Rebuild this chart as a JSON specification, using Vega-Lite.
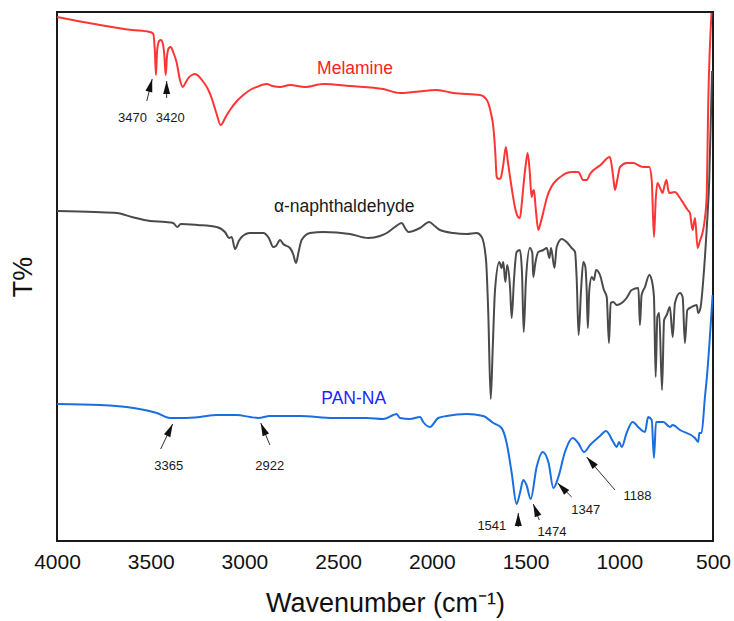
{
  "$schema": "https://vega.github.io/schema/vega-lite/v6.json",
  "width": 656,
  "height": 529,
  "autosize": "none",
  "padding": {"left": 57, "top": 12, "right": 21, "bottom": 80},
  "background": "white",
  "config": {
    "view": {"stroke": "#1a1a1a", "strokeWidth": 2},
    "font": "Liberation Sans"
  },
  "datasets": {
    "spectra": [
      {"series": "Melamine", "w": 4000, "t": 524}, {"series": "Melamine", "w": 3800, "t": 517}, {"series": "Melamine", "w": 3600, "t": 511},
      {"series": "Melamine", "w": 3504, "t": 509}, {"series": "Melamine", "w": 3486, "t": 507}, {"series": "Melamine", "w": 3478, "t": 490},
      {"series": "Melamine", "w": 3472, "t": 466}, {"series": "Melamine", "w": 3466, "t": 490}, {"series": "Melamine", "w": 3455, "t": 500},
      {"series": "Melamine", "w": 3445, "t": 501}, {"series": "Melamine", "w": 3435, "t": 497}, {"series": "Melamine", "w": 3427, "t": 485},
      {"series": "Melamine", "w": 3420, "t": 466}, {"series": "Melamine", "w": 3413, "t": 485}, {"series": "Melamine", "w": 3403, "t": 493},
      {"series": "Melamine", "w": 3393, "t": 494}, {"series": "Melamine", "w": 3380, "t": 489}, {"series": "Melamine", "w": 3361, "t": 478},
      {"series": "Melamine", "w": 3345, "t": 462}, {"series": "Melamine", "w": 3329, "t": 454}, {"series": "Melamine", "w": 3315, "t": 458},
      {"series": "Melamine", "w": 3299, "t": 463}, {"series": "Melamine", "w": 3280, "t": 466}, {"series": "Melamine", "w": 3264, "t": 467},
      {"series": "Melamine", "w": 3245, "t": 465}, {"series": "Melamine", "w": 3219, "t": 459}, {"series": "Melamine", "w": 3195, "t": 452},
      {"series": "Melamine", "w": 3175, "t": 443}, {"series": "Melamine", "w": 3150, "t": 428}, {"series": "Melamine", "w": 3127, "t": 416},
      {"series": "Melamine", "w": 3100, "t": 424}, {"series": "Melamine", "w": 3077, "t": 431}, {"series": "Melamine", "w": 3040, "t": 440},
      {"series": "Melamine", "w": 3006, "t": 446}, {"series": "Melamine", "w": 2970, "t": 451}, {"series": "Melamine", "w": 2935, "t": 454},
      {"series": "Melamine", "w": 2881, "t": 457}, {"series": "Melamine", "w": 2850, "t": 455}, {"series": "Melamine", "w": 2810, "t": 454},
      {"series": "Melamine", "w": 2757, "t": 456}, {"series": "Melamine", "w": 2677, "t": 454}, {"series": "Melamine", "w": 2579, "t": 457},
      {"series": "Melamine", "w": 2437, "t": 455}, {"series": "Melamine", "w": 2259, "t": 452}, {"series": "Melamine", "w": 2170, "t": 448},
      {"series": "Melamine", "w": 2100, "t": 449}, {"series": "Melamine", "w": 1974, "t": 451}, {"series": "Melamine", "w": 1886, "t": 448},
      {"series": "Melamine", "w": 1743, "t": 446}, {"series": "Melamine", "w": 1715, "t": 443}, {"series": "Melamine", "w": 1699, "t": 438},
      {"series": "Melamine", "w": 1685, "t": 428}, {"series": "Melamine", "w": 1672, "t": 414}, {"series": "Melamine", "w": 1662, "t": 390},
      {"series": "Melamine", "w": 1654, "t": 364}, {"series": "Melamine", "w": 1643, "t": 362}, {"series": "Melamine", "w": 1633, "t": 363},
      {"series": "Melamine", "w": 1620, "t": 375}, {"series": "Melamine", "w": 1605, "t": 394}, {"series": "Melamine", "w": 1595, "t": 380},
      {"series": "Melamine", "w": 1583, "t": 364}, {"series": "Melamine", "w": 1570, "t": 348}, {"series": "Melamine", "w": 1557, "t": 334},
      {"series": "Melamine", "w": 1540, "t": 324}, {"series": "Melamine", "w": 1530, "t": 323}, {"series": "Melamine", "w": 1520, "t": 338},
      {"series": "Melamine", "w": 1512, "t": 354}, {"series": "Melamine", "w": 1500, "t": 375}, {"series": "Melamine", "w": 1489, "t": 388},
      {"series": "Melamine", "w": 1478, "t": 370}, {"series": "Melamine", "w": 1468, "t": 344}, {"series": "Melamine", "w": 1460, "t": 350},
      {"series": "Melamine", "w": 1455, "t": 351}, {"series": "Melamine", "w": 1447, "t": 335}, {"series": "Melamine", "w": 1432, "t": 311},
      {"series": "Melamine", "w": 1420, "t": 318}, {"series": "Melamine", "w": 1400, "t": 333}, {"series": "Melamine", "w": 1387, "t": 343},
      {"series": "Melamine", "w": 1360, "t": 355}, {"series": "Melamine", "w": 1334, "t": 361}, {"series": "Melamine", "w": 1300, "t": 366},
      {"series": "Melamine", "w": 1281, "t": 368}, {"series": "Melamine", "w": 1250, "t": 369}, {"series": "Melamine", "w": 1219, "t": 369},
      {"series": "Melamine", "w": 1205, "t": 365}, {"series": "Melamine", "w": 1195, "t": 361}, {"series": "Melamine", "w": 1174, "t": 361},
      {"series": "Melamine", "w": 1156, "t": 367}, {"series": "Melamine", "w": 1100, "t": 376}, {"series": "Melamine", "w": 1050, "t": 384},
      {"series": "Melamine", "w": 1040, "t": 375}, {"series": "Melamine", "w": 1030, "t": 360}, {"series": "Melamine", "w": 1023, "t": 351},
      {"series": "Melamine", "w": 1010, "t": 362}, {"series": "Melamine", "w": 996, "t": 374}, {"series": "Melamine", "w": 960, "t": 378},
      {"series": "Melamine", "w": 925, "t": 378}, {"series": "Melamine", "w": 890, "t": 375}, {"series": "Melamine", "w": 872, "t": 374},
      {"series": "Melamine", "w": 840, "t": 374}, {"series": "Melamine", "w": 827, "t": 361}, {"series": "Melamine", "w": 815, "t": 304},
      {"series": "Melamine", "w": 806, "t": 340}, {"series": "Melamine", "w": 797, "t": 358}, {"series": "Melamine", "w": 780, "t": 352},
      {"series": "Melamine", "w": 769, "t": 348}, {"series": "Melamine", "w": 758, "t": 356}, {"series": "Melamine", "w": 748, "t": 361},
      {"series": "Melamine", "w": 740, "t": 352}, {"series": "Melamine", "w": 733, "t": 348}, {"series": "Melamine", "w": 703, "t": 349},
      {"series": "Melamine", "w": 680, "t": 344}, {"series": "Melamine", "w": 659, "t": 338}, {"series": "Melamine", "w": 635, "t": 331},
      {"series": "Melamine", "w": 623, "t": 328}, {"series": "Melamine", "w": 609, "t": 311}, {"series": "Melamine", "w": 600, "t": 320},
      {"series": "Melamine", "w": 596, "t": 323}, {"series": "Melamine", "w": 582, "t": 293}, {"series": "Melamine", "w": 570, "t": 300},
      {"series": "Melamine", "w": 556, "t": 308}, {"series": "Melamine", "w": 545, "t": 320}, {"series": "Melamine", "w": 534, "t": 344},
      {"series": "Melamine", "w": 525, "t": 441}, {"series": "Melamine", "w": 508, "t": 528},

      {"series": "α-naphthaldehyde", "w": 4000, "t": 330}, {"series": "α-naphthaldehyde", "w": 3800, "t": 329}, {"series": "α-naphthaldehyde", "w": 3680, "t": 328},
      {"series": "α-naphthaldehyde", "w": 3600, "t": 324}, {"series": "α-naphthaldehyde", "w": 3504, "t": 320}, {"series": "α-naphthaldehyde", "w": 3420, "t": 319},
      {"series": "α-naphthaldehyde", "w": 3380, "t": 318}, {"series": "α-naphthaldehyde", "w": 3358, "t": 314}, {"series": "α-naphthaldehyde", "w": 3340, "t": 317},
      {"series": "α-naphthaldehyde", "w": 3250, "t": 316}, {"series": "α-naphthaldehyde", "w": 3148, "t": 314}, {"series": "α-naphthaldehyde", "w": 3104, "t": 309},
      {"series": "α-naphthaldehyde", "w": 3081, "t": 303}, {"series": "α-naphthaldehyde", "w": 3068, "t": 304}, {"series": "α-naphthaldehyde", "w": 3050, "t": 292},
      {"series": "α-naphthaldehyde", "w": 3030, "t": 300}, {"series": "α-naphthaldehyde", "w": 3015, "t": 304}, {"series": "α-naphthaldehyde", "w": 2970, "t": 308},
      {"series": "α-naphthaldehyde", "w": 2899, "t": 308}, {"series": "α-naphthaldehyde", "w": 2870, "t": 303}, {"series": "α-naphthaldehyde", "w": 2846, "t": 294},
      {"series": "α-naphthaldehyde", "w": 2832, "t": 295}, {"series": "α-naphthaldehyde", "w": 2810, "t": 301}, {"series": "α-naphthaldehyde", "w": 2793, "t": 297},
      {"series": "α-naphthaldehyde", "w": 2757, "t": 293}, {"series": "α-naphthaldehyde", "w": 2740, "t": 287}, {"series": "α-naphthaldehyde", "w": 2725, "t": 278},
      {"series": "α-naphthaldehyde", "w": 2710, "t": 290}, {"series": "α-naphthaldehyde", "w": 2695, "t": 301}, {"series": "α-naphthaldehyde", "w": 2650, "t": 308},
      {"series": "α-naphthaldehyde", "w": 2579, "t": 309}, {"series": "α-naphthaldehyde", "w": 2437, "t": 307}, {"series": "α-naphthaldehyde", "w": 2339, "t": 303},
      {"series": "α-naphthaldehyde", "w": 2277, "t": 305}, {"series": "α-naphthaldehyde", "w": 2241, "t": 308}, {"series": "α-naphthaldehyde", "w": 2197, "t": 314},
      {"series": "α-naphthaldehyde", "w": 2161, "t": 318}, {"series": "α-naphthaldehyde", "w": 2140, "t": 312}, {"series": "α-naphthaldehyde", "w": 2126, "t": 309},
      {"series": "α-naphthaldehyde", "w": 2063, "t": 313}, {"series": "α-naphthaldehyde", "w": 2014, "t": 319}, {"series": "α-naphthaldehyde", "w": 1985, "t": 315},
      {"series": "α-naphthaldehyde", "w": 1957, "t": 311}, {"series": "α-naphthaldehyde", "w": 1886, "t": 308}, {"series": "α-naphthaldehyde", "w": 1814, "t": 307},
      {"series": "α-naphthaldehyde", "w": 1761, "t": 308}, {"series": "α-naphthaldehyde", "w": 1734, "t": 304}, {"series": "α-naphthaldehyde", "w": 1711, "t": 281},
      {"series": "α-naphthaldehyde", "w": 1699, "t": 228}, {"series": "α-naphthaldehyde", "w": 1686, "t": 142}, {"series": "α-naphthaldehyde", "w": 1675, "t": 194},
      {"series": "α-naphthaldehyde", "w": 1663, "t": 251}, {"series": "α-naphthaldehyde", "w": 1640, "t": 279}, {"series": "α-naphthaldehyde", "w": 1628, "t": 273},
      {"series": "α-naphthaldehyde", "w": 1619, "t": 279}, {"series": "α-naphthaldehyde", "w": 1608, "t": 259}, {"series": "α-naphthaldehyde", "w": 1598, "t": 276},
      {"series": "α-naphthaldehyde", "w": 1583, "t": 254}, {"series": "α-naphthaldehyde", "w": 1574, "t": 223}, {"series": "α-naphthaldehyde", "w": 1562, "t": 261},
      {"series": "α-naphthaldehyde", "w": 1548, "t": 289}, {"series": "α-naphthaldehyde", "w": 1530, "t": 291}, {"series": "α-naphthaldehyde", "w": 1519, "t": 268},
      {"series": "α-naphthaldehyde", "w": 1510, "t": 209}, {"series": "α-naphthaldehyde", "w": 1498, "t": 261}, {"series": "α-naphthaldehyde", "w": 1477, "t": 293},
      {"series": "α-naphthaldehyde", "w": 1464, "t": 288}, {"series": "α-naphthaldehyde", "w": 1459, "t": 264}, {"series": "α-naphthaldehyde", "w": 1448, "t": 278},
      {"series": "α-naphthaldehyde", "w": 1432, "t": 289}, {"series": "α-naphthaldehyde", "w": 1405, "t": 291}, {"series": "α-naphthaldehyde", "w": 1387, "t": 293},
      {"series": "α-naphthaldehyde", "w": 1373, "t": 283}, {"series": "α-naphthaldehyde", "w": 1364, "t": 293}, {"series": "α-naphthaldehyde", "w": 1346, "t": 273},
      {"series": "α-naphthaldehyde", "w": 1334, "t": 294}, {"series": "α-naphthaldehyde", "w": 1307, "t": 302}, {"series": "α-naphthaldehyde", "w": 1281, "t": 299},
      {"series": "α-naphthaldehyde", "w": 1254, "t": 293}, {"series": "α-naphthaldehyde", "w": 1236, "t": 289}, {"series": "α-naphthaldehyde", "w": 1227, "t": 261},
      {"series": "α-naphthaldehyde", "w": 1217, "t": 206}, {"series": "α-naphthaldehyde", "w": 1204, "t": 251}, {"series": "α-naphthaldehyde", "w": 1192, "t": 279},
      {"series": "α-naphthaldehyde", "w": 1181, "t": 274}, {"series": "α-naphthaldehyde", "w": 1174, "t": 251}, {"series": "α-naphthaldehyde", "w": 1168, "t": 213},
      {"series": "α-naphthaldehyde", "w": 1160, "t": 251}, {"series": "α-naphthaldehyde", "w": 1147, "t": 264}, {"series": "α-naphthaldehyde", "w": 1135, "t": 261},
      {"series": "α-naphthaldehyde", "w": 1124, "t": 271}, {"series": "α-naphthaldehyde", "w": 1103, "t": 266}, {"series": "α-naphthaldehyde", "w": 1082, "t": 251},
      {"series": "α-naphthaldehyde", "w": 1067, "t": 244}, {"series": "α-naphthaldehyde", "w": 1055, "t": 198}, {"series": "α-naphthaldehyde", "w": 1046, "t": 238},
      {"series": "α-naphthaldehyde", "w": 1032, "t": 239}, {"series": "α-naphthaldehyde", "w": 1014, "t": 236}, {"series": "α-naphthaldehyde", "w": 987, "t": 238},
      {"series": "α-naphthaldehyde", "w": 961, "t": 243}, {"series": "α-naphthaldehyde", "w": 934, "t": 251}, {"series": "α-naphthaldehyde", "w": 898, "t": 253},
      {"series": "α-naphthaldehyde", "w": 890, "t": 216}, {"series": "α-naphthaldehyde", "w": 881, "t": 246}, {"series": "α-naphthaldehyde", "w": 863, "t": 254},
      {"series": "α-naphthaldehyde", "w": 840, "t": 266}, {"series": "α-naphthaldehyde", "w": 827, "t": 261}, {"series": "α-naphthaldehyde", "w": 815, "t": 244},
      {"series": "α-naphthaldehyde", "w": 806, "t": 164}, {"series": "α-naphthaldehyde", "w": 797, "t": 224}, {"series": "α-naphthaldehyde", "w": 787, "t": 228},
      {"series": "α-naphthaldehyde", "w": 772, "t": 151}, {"series": "α-naphthaldehyde", "w": 761, "t": 221}, {"series": "α-naphthaldehyde", "w": 747, "t": 226},
      {"series": "α-naphthaldehyde", "w": 730, "t": 234}, {"series": "α-naphthaldehyde", "w": 715, "t": 204}, {"series": "α-naphthaldehyde", "w": 703, "t": 238},
      {"series": "α-naphthaldehyde", "w": 676, "t": 248}, {"series": "α-naphthaldehyde", "w": 662, "t": 244}, {"series": "α-naphthaldehyde", "w": 650, "t": 198},
      {"series": "α-naphthaldehyde", "w": 637, "t": 231}, {"series": "α-naphthaldehyde", "w": 614, "t": 234}, {"series": "α-naphthaldehyde", "w": 587, "t": 236},
      {"series": "α-naphthaldehyde", "w": 579, "t": 228}, {"series": "α-naphthaldehyde", "w": 566, "t": 234}, {"series": "α-naphthaldehyde", "w": 552, "t": 261},
      {"series": "α-naphthaldehyde", "w": 534, "t": 311}, {"series": "α-naphthaldehyde", "w": 520, "t": 361}, {"series": "α-naphthaldehyde", "w": 505, "t": 470},

      {"series": "PAN-NA", "w": 4000, "t": 137}, {"series": "PAN-NA", "w": 3771, "t": 136}, {"series": "PAN-NA", "w": 3593, "t": 133},
      {"series": "PAN-NA", "w": 3468, "t": 128}, {"series": "PAN-NA", "w": 3397, "t": 123}, {"series": "PAN-NA", "w": 3326, "t": 123},
      {"series": "PAN-NA", "w": 3237, "t": 124}, {"series": "PAN-NA", "w": 3148, "t": 126}, {"series": "PAN-NA", "w": 3041, "t": 126},
      {"series": "PAN-NA", "w": 2970, "t": 124}, {"series": "PAN-NA", "w": 2926, "t": 123}, {"series": "PAN-NA", "w": 2864, "t": 125},
      {"series": "PAN-NA", "w": 2704, "t": 125}, {"series": "PAN-NA", "w": 2526, "t": 123}, {"series": "PAN-NA", "w": 2348, "t": 123},
      {"series": "PAN-NA", "w": 2259, "t": 122}, {"series": "PAN-NA", "w": 2206, "t": 126}, {"series": "PAN-NA", "w": 2188, "t": 127},
      {"series": "PAN-NA", "w": 2170, "t": 123}, {"series": "PAN-NA", "w": 2117, "t": 122}, {"series": "PAN-NA", "w": 2063, "t": 124},
      {"series": "PAN-NA", "w": 2046, "t": 119}, {"series": "PAN-NA", "w": 2010, "t": 114}, {"series": "PAN-NA", "w": 1966, "t": 123},
      {"series": "PAN-NA", "w": 1921, "t": 125}, {"series": "PAN-NA", "w": 1814, "t": 127}, {"series": "PAN-NA", "w": 1726, "t": 125},
      {"series": "PAN-NA", "w": 1672, "t": 118}, {"series": "PAN-NA", "w": 1628, "t": 113}, {"series": "PAN-NA", "w": 1601, "t": 98},
      {"series": "PAN-NA", "w": 1574, "t": 68}, {"series": "PAN-NA", "w": 1548, "t": 37}, {"series": "PAN-NA", "w": 1530, "t": 48},
      {"series": "PAN-NA", "w": 1512, "t": 61}, {"series": "PAN-NA", "w": 1495, "t": 56}, {"series": "PAN-NA", "w": 1473, "t": 42},
      {"series": "PAN-NA", "w": 1441, "t": 74}, {"series": "PAN-NA", "w": 1409, "t": 89}, {"series": "PAN-NA", "w": 1377, "t": 78},
      {"series": "PAN-NA", "w": 1352, "t": 53}, {"series": "PAN-NA", "w": 1325, "t": 64}, {"series": "PAN-NA", "w": 1290, "t": 89},
      {"series": "PAN-NA", "w": 1249, "t": 103}, {"series": "PAN-NA", "w": 1219, "t": 98}, {"series": "PAN-NA", "w": 1188, "t": 89},
      {"series": "PAN-NA", "w": 1156, "t": 96}, {"series": "PAN-NA", "w": 1103, "t": 105}, {"series": "PAN-NA", "w": 1071, "t": 110},
      {"series": "PAN-NA", "w": 1032, "t": 99}, {"series": "PAN-NA", "w": 1014, "t": 94}, {"series": "PAN-NA", "w": 1001, "t": 99},
      {"series": "PAN-NA", "w": 987, "t": 94}, {"series": "PAN-NA", "w": 961, "t": 108}, {"series": "PAN-NA", "w": 929, "t": 119},
      {"series": "PAN-NA", "w": 894, "t": 113}, {"series": "PAN-NA", "w": 863, "t": 109}, {"series": "PAN-NA", "w": 846, "t": 124},
      {"series": "PAN-NA", "w": 827, "t": 121}, {"series": "PAN-NA", "w": 815, "t": 83}, {"series": "PAN-NA", "w": 804, "t": 119},
      {"series": "PAN-NA", "w": 765, "t": 119}, {"series": "PAN-NA", "w": 730, "t": 114}, {"series": "PAN-NA", "w": 715, "t": 116},
      {"series": "PAN-NA", "w": 676, "t": 111}, {"series": "PAN-NA", "w": 596, "t": 103}, {"series": "PAN-NA", "w": 579, "t": 99},
      {"series": "PAN-NA", "w": 573, "t": 108}, {"series": "PAN-NA", "w": 561, "t": 108}, {"series": "PAN-NA", "w": 543, "t": 144},
      {"series": "PAN-NA", "w": 534, "t": 161}, {"series": "PAN-NA", "w": 502, "t": 246}
    ],
    "peakLabels": [
      {"label": "3470", "w": 3597, "t": 423},
      {"label": "3420", "w": 3396, "t": 423},
      {"label": "3365", "w": 3404, "t": 75},
      {"label": "2922", "w": 2865, "t": 75},
      {"label": "1541", "w": 1680, "t": 15},
      {"label": "1474", "w": 1359, "t": 9},
      {"label": "1347", "w": 1179, "t": 31},
      {"label": "1188", "w": 903, "t": 45}
    ],
    "arrows": [
      {"peak": "3470", "w": 3492, "t": 462, "w2": 3521, "t2": 440, "heading": 15},
      {"peak": "3420", "w": 3415, "t": 460, "w2": 3415, "t2": 443, "heading": 0},
      {"peak": "3365", "w": 3383, "t": 117, "w2": 3447, "t2": 92, "heading": 25},
      {"peak": "2922", "w": 2913, "t": 118, "w2": 2864, "t2": 96, "heading": -23},
      {"peak": "1541", "w": 1539, "t": 28, "w2": 1539, "t2": 14, "heading": 0},
      {"peak": "1474", "w": 1459, "t": 37, "w2": 1427, "t2": 21, "heading": -22},
      {"peak": "1347", "w": 1329, "t": 58, "w2": 1254, "t2": 44, "heading": -44},
      {"peak": "1188", "w": 1174, "t": 84, "w2": 1023, "t2": 51, "heading": -41}
    ],
    "seriesLabels": [
      {"series": "Melamine", "w": 2410, "t": 472},
      {"series": "α-naphthaldehyde", "w": 2468, "t": 334},
      {"series": "PAN-NA", "w": 2417, "t": 142}
    ]
  },
  "encoding": {
    "x": {
      "field": "w",
      "type": "quantitative",
      "scale": {"domain": [500, 4000], "reverse": true, "nice": false, "zero": false},
      "axis": {
        "title": "Wavenumber (cm⁻¹)",
        "values": [4000, 3500, 3000, 2500, 2000, 1500, 1000, 500],
        "format": "d",
        "grid": false,
        "ticks": false,
        "domain": false,
        "labelFlush": false,
        "labelOverlap": false,
        "labelFontSize": 21,
        "labelColor": "#111111",
        "labelPadding": 10,
        "titleFontSize": 27,
        "titleFontWeight": "normal",
        "titleColor": "#111111",
        "titlePadding": 18
      }
    },
    "y": {
      "field": "t",
      "type": "quantitative",
      "scale": {"domain": [0, 529], "nice": false, "zero": false},
      "axis": {
        "title": "T%",
        "labels": false,
        "ticks": false,
        "domain": false,
        "grid": false,
        "titleFontSize": 27,
        "titleFontWeight": "normal",
        "titleColor": "#111111",
        "titlePadding": 20
      }
    }
  },
  "layer": [
    {
      "data": {"name": "spectra"},
      "mark": {"type": "line", "strokeWidth": 2, "clip": true, "interpolate": "monotone"},
      "encoding": {
        "color": {
          "field": "series",
          "type": "nominal",
          "scale": {"domain": ["Melamine", "α-naphthaldehyde", "PAN-NA"], "range": ["#ff3535", "#4a4a4a", "#1a6fe0"]},
          "legend": null
        }
      }
    },
    {
      "data": {"name": "arrows"},
      "mark": {"type": "rule", "strokeWidth": 1, "color": "#333333"},
      "encoding": {
        "x2": {"field": "w2"},
        "y2": {"field": "t2"}
      }
    },
    {
      "data": {"name": "arrows"},
      "mark": {"type": "point", "shape": "M0,0L0.35,1.3L-0.35,1.3Z", "size": 400, "filled": true, "color": "#111111", "opacity": 1, "strokeWidth": 0},
      "encoding": {
        "angle": {"field": "heading", "type": "quantitative", "scale": null}
      }
    },
    {
      "data": {"name": "peakLabels"},
      "mark": {"type": "text", "fontSize": 13, "color": "#1a1a1a", "align": "center", "baseline": "middle"},
      "encoding": {"text": {"field": "label"}}
    },
    {
      "data": {"name": "seriesLabels"},
      "mark": {"type": "text", "fontSize": 17.5, "align": "center", "baseline": "middle"},
      "encoding": {
        "text": {"field": "series"},
        "color": {
          "field": "series",
          "type": "nominal",
          "scale": {"domain": ["Melamine", "α-naphthaldehyde", "PAN-NA"], "range": ["#ff2020", "#1a1a1a", "#1f1fff"]},
          "legend": null
        }
      }
    }
  ],
  "resolve": {"scale": {"color": "independent"}}
}
